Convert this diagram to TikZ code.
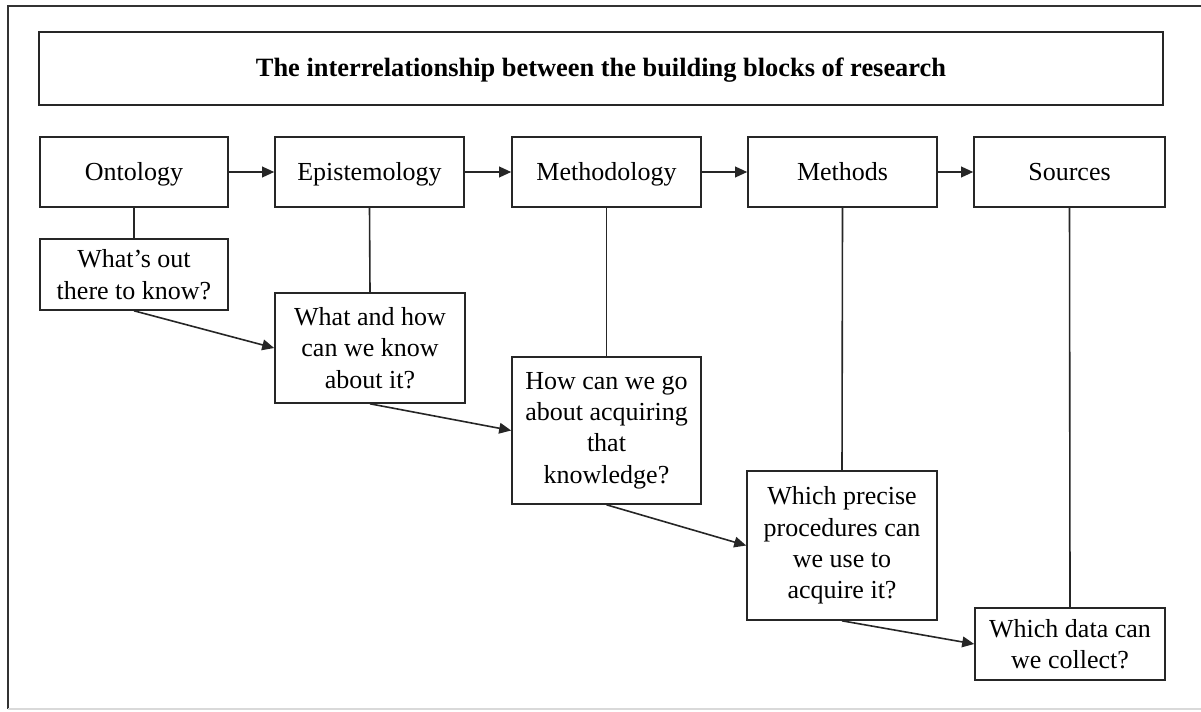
\documentclass[tikz,border=0pt]{standalone}
\usepackage{fontspec}
\setmainfont{Liberation Serif}
\usetikzlibrary{arrows.meta}
\begin{document}
\begin{tikzpicture}[x=0.75pt,y=-0.75pt,
  box/.style={draw=black!85, line width=1.2pt, rectangle, inner sep=0pt, align=center,
    font=\fontsize{19.5}{23.6}\selectfont},
  topbox/.style={box, minimum height=70*0.75pt, text height=17pt, text depth=4pt},
  conn/.style={draw=black!85, line width=1.2pt},
  arr/.style={conn, -{Triangle[length=9pt,width=8pt]}}]
\useasboundingbox (0,0) rectangle (1201,711);
\draw[line width=1.2pt, black!80] (8,709) -- (8,6) -- (1205,6);
\draw[line width=1.2pt, black!15] (8,709) -- (1205,709);
\node[box, minimum width=1124*0.75pt, minimum height=73*0.75pt, text height=16pt, text depth=4pt, font=\bfseries\fontsize{19.8}{23.6}\selectfont] (title) at (601,68.5) {The interrelationship between the building blocks of research};
\node[topbox, minimum width=188*0.75pt] (ont) at (134,172) {Ontology};
\node[topbox, minimum width=189*0.75pt] (epi) at (369.5,172) {Epistemology};
\node[topbox, minimum width=189*0.75pt] (mtd) at (606.5,172) {Methodology};
\node[topbox, minimum width=189*0.75pt] (mts) at (842.5,172) {Methods};
\node[topbox, minimum width=191*0.75pt] (src) at (1069.5,172) {Sources};
\node[box, minimum width=188*0.75pt, minimum height=71*0.75pt] (q1) at (134,274.5) {What’s out\\there to know?};
\node[box, minimum width=190*0.75pt, minimum height=110*0.75pt] (q2) at (370,348) {What and how\\can we know\\about it?};
\node[box, minimum width=189*0.75pt, minimum height=147*0.75pt] (q3) at (606.5,430.5) {How can we go\\about acquiring\\that\\knowledge?};
\node[box, minimum width=190*0.75pt, minimum height=149*0.75pt] (q4) at (842,545.5) {Which precise\\procedures can\\we use to\\acquire it?};
\node[box, minimum width=190*0.75pt, minimum height=72*0.75pt] (q5) at (1070,644) {Which data can\\we collect?};
\draw[arr] (ont) -- (epi);
\draw[arr] (epi) -- (mtd);
\draw[arr] (mtd) -- (mts);
\draw[arr] (mts) -- (src);
\draw[conn] (ont.south) -- (q1.north);
\draw[conn] (epi.south) -- (q2.north);
\draw[conn] (mtd.south) -- (q3.north);
\draw[conn] (mts.south) -- (q4.north);
\draw[conn] (src.south) -- (q5.north);
\draw[arr] (q1.south) -- (q2.west);
\draw[arr] (q2.south) -- (q3.west);
\draw[arr] (q3.south) -- (q4.west);
\draw[arr] (q4.south) -- (q5.west);
\end{tikzpicture}
\end{document}
